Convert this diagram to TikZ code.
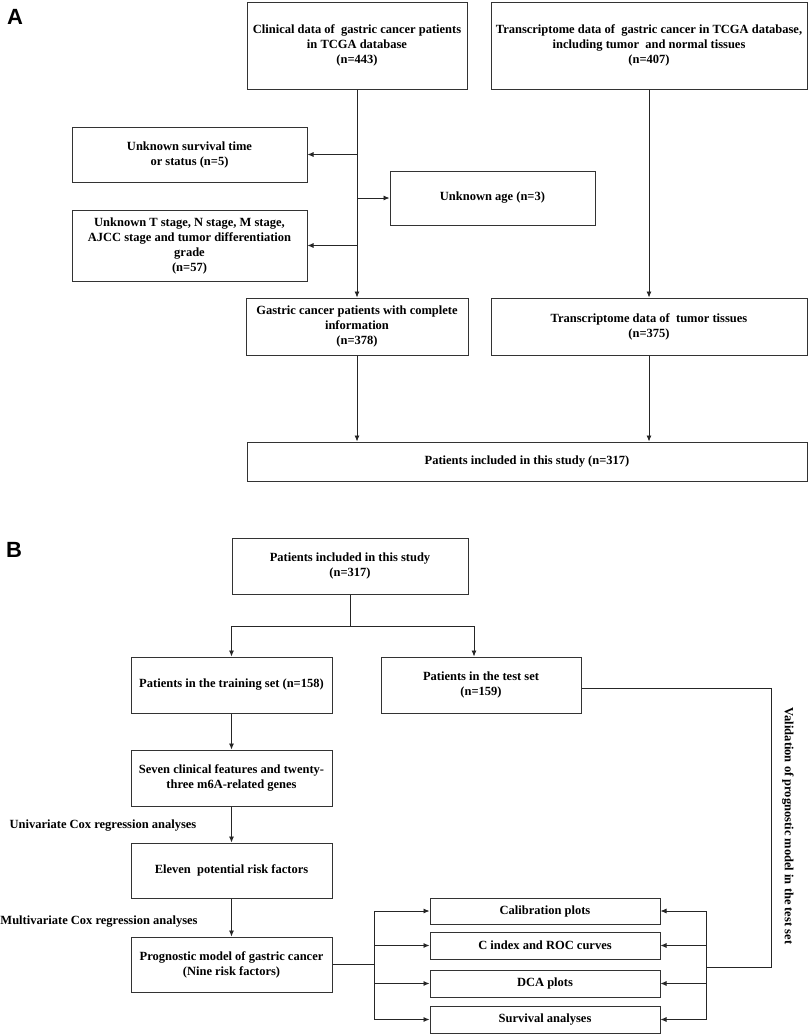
\documentclass[tikz,border=0pt]{standalone}
\usepackage{fontspec}
\setmainfont{Liberation Serif}
\newfontfamily\panelfont{Liberation Sans}
\usetikzlibrary{arrows.meta}
\tikzset{
box/.style={rectangle,draw=black!80,line width=1pt,align=center,inner sep=2pt,
 font=\fontsize{12.5pt}{15pt}\selectfont\bfseries},
note/.style={align=center,inner sep=0pt,font=\fontsize{12.5pt}{15pt}\selectfont\bfseries},
panel/.style={inner sep=0pt,font=\fontsize{22pt}{24pt}\selectfont\panelfont\bfseries},
>={Latex[length=6pt,width=5pt]}
}
\begin{document}
\begin{tikzpicture}[x=1pt,y=-1pt,line width=0.8pt,draw=black!85]
\useasboundingbox (0,0) rectangle (809,1034);
% A
\node[panel] (LA) at (15,17) {A};
\node[box,minimum width=220pt,minimum height=87pt] (CD) at (357,45.5) {Clinical data of\ \ gastric cancer patients\\in TCGA database\\(n=443)};
\node[box,minimum width=316pt,minimum height=87pt] (TD) at (649,45.5) {Transcriptome data of\ \ gastric cancer in TCGA database,\\including tumor\ \ and normal tissues\\(n=407)};
\node[box,minimum width=235pt,minimum height=55pt] (US) at (189.5,154.5) {Unknown survival time\\or status (n=5)};
\node[box,minimum width=205pt,minimum height=54pt] (UA) at (492.5,198) {Unknown age (n=3)};
\node[box,minimum width=235pt,minimum height=71pt] (UT) at (189.5,245.5) {Unknown T stage, N stage, M stage,\\AJCC stage and tumor differentiation\\grade\\(n=57)};
\node[box,minimum width=222pt,minimum height=57pt] (CI) at (357,326.5) {Gastric cancer patients with complete\\information\\(n=378)};
\node[box,minimum width=316pt,minimum height=57pt] (TT) at (649,326.5) {Transcriptome data of\ \ tumor tissues\\(n=375)};
\node[box,minimum width=560pt,minimum height=39pt] (PI) at (527,461.5) {Patients included in this study (n=317)};
\draw[->] (CD.south) -- (CI.north);
\draw[->] (CD.south |- US.east) -- (US.east);
\draw[->] (CD.south |- UA.west) -- (UA.west);
\draw[->] (CD.south |- UT.east) -- (UT.east);
\draw[->] (TD.south) -- (TT.north);
\draw[->] (CI.south) -- (CI.south |- PI.north);
\draw[->] (TT.south) -- (TT.south |- PI.north);
% B
\node[panel] (LB) at (14,550) {B};
\node[box,minimum width=236pt,minimum height=56pt] (PS) at (350,566) {Patients included in this study\\(n=317)};
\node[box,minimum width=201pt,minimum height=56pt] (TR) at (231.5,685) {Patients in the training set (n=158)};
\node[box,minimum width=200pt,minimum height=56pt] (TE) at (481,685) {Patients in the test set\\(n=159)};
\node[box,minimum width=201pt,minimum height=56pt] (SF) at (231.5,778) {Seven clinical features and twenty-\\three m6A-related genes};
\node[box,minimum width=201pt,minimum height=55pt] (ER) at (231.5,870.5) {Eleven\ \ potential risk factors};
\node[box,minimum width=201pt,minimum height=55pt] (PM) at (231.5,964.5) {Prognostic model of gastric cancer\\(Nine risk factors)};
\node[note] (UC) at (103,826) {Univariate Cox regression analyses};
\node[note] (MC) at (99,922) {Multivariate Cox regression analyses};
\node[box,minimum width=230pt,minimum height=26pt] (CP) at (545,911) {Calibration plots};
\node[box,minimum width=230pt,minimum height=27pt] (CR) at (545,945.5) {C index and ROC curves};
\node[box,minimum width=230pt,minimum height=27pt] (DP) at (545,983.5) {DCA plots};
\node[box,minimum width=230pt,minimum height=27pt] (SA) at (545,1019.5) {Survival analyses};
\node[note,rotate=-90] (VT) at (788,826) {Validation of prognostic model in the test set};
\coordinate (J1) at (350,626);
\coordinate (J2) at (474,626);
\coordinate (LB) at (374,964.5);
\coordinate (RB) at (706,967);
\coordinate (RT) at (771,688);
\draw (PS.south) -- (J1);
\draw[->] (J1) -| (TR.north);
\draw[->] (J1) -- (J2) -- (J2 |- TE.north);
\draw[->] (TR.south) -- (SF.north);
\draw[->] (SF.south) -- (ER.north);
\draw[->] (ER.south) -- (PM.north);
\draw (PM.east) -- (LB);
\draw (LB |- CP.west) -- (LB |- SA.west);
\draw[->] (LB |- CP.west) -- (CP.west);
\draw[->] (LB |- CR.west) -- (CR.west);
\draw[->] (LB |- DP.west) -- (DP.west);
\draw[->] (LB |- SA.west) -- (SA.west);
\draw (TE.east |- RT) -- (RT) -- (RT |- RB) -- (RB);
\draw (RB |- CP.east) -- (RB |- SA.east);
\draw[->] (RB |- CP.east) -- (CP.east);
\draw[->] (RB |- CR.east) -- (CR.east);
\draw[->] (RB |- DP.east) -- (DP.east);
\draw[->] (RB |- SA.east) -- (SA.east);
\end{tikzpicture}
\end{document}
